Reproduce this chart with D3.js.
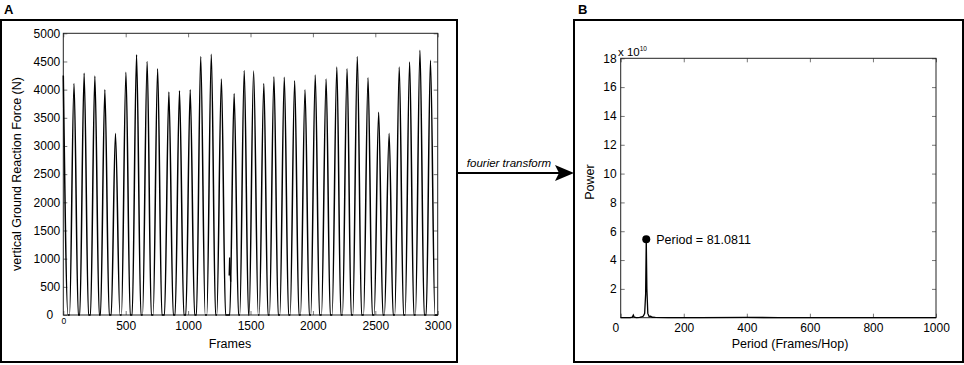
<!DOCTYPE html>
<html>
<head>
<meta charset="utf-8">
<script src="https://cdn.jsdelivr.net/npm/d3@7"></script>
<style>
  body { margin: 0; background: #fff; }
  svg { display: block; font-family: "Liberation Sans", Arial, sans-serif; }
</style>
</head>
<body>
<div id="chart"></div>
<script>
// ---- Panel A data: vertical ground reaction force vs frames ----
const frameTicks = [0, 500, 1000, 1500, 2000, 2500, 3000];
const forceTicks = [0, 500, 1000, 1500, 2000, 2500, 3000, 3500, 4000, 4500, 5000];

// each step: touchdown frame, peak frame, peak force, toe-off frame
const touchdown = [50, 132, 218, 298, 384, 466, 552, 635, 720, 811, 896, 982, 1067, 1150, 1230, 1334, 1414, 1489, 1570, 1652, 1735, 1818, 1901, 1983, 2069, 2154, 2237, 2320, 2406, 2491, 2573, 2656, 2739, 2822, 2908];
const peakFrame = [86, 167, 253, 333, 418, 502, 587, 672, 756, 846, 931, 1017, 1101, 1186, 1267, 1369, 1450, 1525, 1607, 1688, 1771, 1854, 1937, 2019, 2106, 2192, 2274, 2356, 2442, 2527, 2611, 2692, 2775, 2858, 2942];
const peakForce = [4110, 4290, 4240, 4000, 3220, 4310, 4620, 4500, 4370, 3960, 3980, 4000, 4590, 4630, 4190, 3930, 4340, 4330, 4110, 4230, 4220, 4160, 4000, 4260, 4190, 4400, 4370, 4590, 4210, 3600, 3220, 4400, 4490, 4700, 4520];
const toeoff = [120, 202, 288, 368, 454, 536, 622, 705, 790, 881, 966, 1052, 1137, 1220, 1300, 1404, 1484, 1562, 1640, 1722, 1805, 1888, 1971, 2053, 2139, 2224, 2307, 2390, 2476, 2561, 2643, 2726, 2809, 2892, 2978];
// trace begins mid-step, and a short glitch segment near frame 1335
const startFrames = [0, 38];
const startForces = [4250, 0];
const glitchFrames = [1329, 1333, 1341];
const glitchForces = [700, 1020, 590];

// ---- Panel B data: power spectrum ----
const periodTicks = [0, 200, 400, 600, 800, 1000];
const powerTicks = [2, 4, 6, 8, 10, 12, 14, 16, 18];
const periodVals = [0, 30, 37, 40, 43, 50, 60, 66, 72, 76, 79, 81.08, 83, 86, 90, 95, 100, 110, 150, 250, 400, 500, 700, 1000];
const powerVals = [0, 0.01, 0.04, 0.18, 0.03, 0.01, 0.02, 0.05, 0.12, 0.3, 1.6, 5.45, 2.0, 0.3, 0.08, 0.1, 0.03, 0.02, 0.01, 0.01, 0.02, 0.01, 0, 0];
const peakPeriod = 81.0811;
const peakPower = 5.45;

const width = 964, height = 365;
const svg = d3.select("#chart").append("svg")
    .attr("width", width)
    .attr("height", height);

const fontSize = 12;
const fmt = d3.format("d");

// panel frames
svg.append("rect").attr("x", 1).attr("y", 20).attr("width", 456).attr("height", 342)
    .attr("fill", "none").attr("stroke", "#000").attr("stroke-width", 2);
svg.append("rect").attr("x", 574).attr("y", 20).attr("width", 389).attr("height", 342)
    .attr("fill", "none").attr("stroke", "#000").attr("stroke-width", 2);

svg.append("text").attr("x", 4).attr("y", 14).text("A")
    .attr("font-weight", "bold").attr("font-size", 13);
svg.append("text").attr("x", 578).attr("y", 14).text("B")
    .attr("font-weight", "bold").attr("font-size", 13);

// helper to style an axis group MATLAB style
function styleAxis(g) {
    g.select(".domain").remove();
    g.selectAll(".tick line").attr("stroke", "#777");
    g.selectAll(".tick text").attr("fill", "#000").attr("font-size", fontSize)
        .attr("font-family", "Liberation Sans, Arial, sans-serif");
}

// ================= Panel A =================
const xA = d3.scaleLinear().domain([0, 3000]).range([63.3, 437.7]);
const yA = d3.scaleLinear().domain([0, 5000]).range([315, 33.3]);

svg.append("g").attr("transform", "translate(0,315)")
    .call(d3.axisBottom(xA).tickValues(frameTicks).tickFormat(fmt).tickSize(-4).tickPadding(6))
    .call(styleAxis)
    .call(g => g.selectAll(".tick text").filter(d => d === 0)
        .attr("font-size", 8.5).attr("dy", "0.3em"));
svg.append("g").attr("transform", "translate(0,33.3)")
    .call(d3.axisTop(xA).tickValues(frameTicks).tickSize(-4).tickFormat(""))
    .call(styleAxis);
svg.append("g").attr("transform", "translate(63.3,0)")
    .call(d3.axisLeft(yA).tickValues(forceTicks).tickFormat(fmt).tickSize(-4).tickPadding(3))
    .call(styleAxis)
    .call(g => g.selectAll(".tick text").filter(d => d === 0).attr("dx", "-0.6em"));
svg.append("g").attr("transform", "translate(437.7,0)")
    .call(d3.axisRight(yA).tickValues(forceTicks).tickSize(-4).tickFormat(""))
    .call(styleAxis);

svg.append("rect")
    .attr("x", xA(0)).attr("y", yA(5000))
    .attr("width", xA(3000) - xA(0)).attr("height", yA(0) - yA(5000))
    .attr("fill", "none").attr("stroke", "#222").attr("stroke-width", 1);

// build the force trace from the step points
const tracePts = startFrames.map((f, i) => [f, startForces[i]]);
peakFrame.forEach((p, i) => {
    tracePts.push([touchdown[i], 0]);
    tracePts.push([p, peakForce[i]]);
    tracePts.push([toeoff[i], 0]);
});
tracePts.push([3000, 0]);

const lineA = d3.line()
    .x(d => xA(d[0]))
    .y(d => yA(d[1]))
    .curve(d3.curveMonotoneX);

svg.append("path").datum(tracePts)
    .attr("d", lineA)
    .attr("fill", "none").attr("stroke", "#000").attr("stroke-width", 1.5);

svg.append("path").datum(glitchFrames.map((f, i) => [f, glitchForces[i]]))
    .attr("d", d3.line().x(d => xA(d[0])).y(d => yA(d[1])))
    .attr("fill", "none").attr("stroke", "#000").attr("stroke-width", 1.3);

svg.append("text").attr("x", 230).attr("y", 348)
    .attr("text-anchor", "middle").attr("font-size", 12.5).text("Frames");
svg.append("text")
    .attr("transform", "translate(21,174) rotate(-90)")
    .attr("text-anchor", "middle").attr("font-size", 12.5)
    .text("vertical Ground Reaction Force (N)");

// ================= Arrow =================
svg.append("line").attr("x1", 458).attr("y1", 173).attr("x2", 560).attr("y2", 173)
    .attr("stroke", "#000").attr("stroke-width", 2);
svg.append("path")
    .attr("d", "M555,165 L574,173 L555,181 L559,173 Z")
    .attr("fill", "#000");
svg.append("text").attr("x", 509).attr("y", 167)
    .attr("text-anchor", "middle").attr("font-size", 11.5).attr("font-style", "italic")
    .text("fourier transform");

// ================= Panel B =================
const xB = d3.scaleLinear().domain([0, 1000]).range([620.7, 936]);
const yB = d3.scaleLinear().domain([0, 18]).range([317.7, 58.3]);

svg.append("g").attr("transform", "translate(0,317.7)")
    .call(d3.axisBottom(xB).tickValues(periodTicks).tickFormat(fmt).tickSize(-4).tickPadding(6))
    .call(styleAxis)
    .call(g => g.selectAll(".tick text").filter(d => d === 0).attr("dx", "-0.45em"));
svg.append("g").attr("transform", "translate(0,58.3)")
    .call(d3.axisTop(xB).tickValues(periodTicks).tickSize(-4).tickFormat(""))
    .call(styleAxis);
svg.append("g").attr("transform", "translate(620.7,0)")
    .call(d3.axisLeft(yB).tickValues(powerTicks).tickFormat(fmt).tickSize(-4).tickPadding(4))
    .call(styleAxis);
svg.append("g").attr("transform", "translate(936,0)")
    .call(d3.axisRight(yB).tickValues(powerTicks).tickSize(-4).tickFormat(""))
    .call(styleAxis);

svg.append("rect")
    .attr("x", xB(0)).attr("y", yB(18))
    .attr("width", xB(1000) - xB(0)).attr("height", yB(0) - yB(18))
    .attr("fill", "none").attr("stroke", "#222").attr("stroke-width", 1);

// exponent label
const expo = svg.append("text").attr("x", 618).attr("y", 56).attr("font-size", 11.5);
expo.append("tspan").text("x 10");
expo.append("tspan").attr("font-size", 6.5).attr("dy", -5).text("10");

const spectrum = periodVals.map((p, i) => [p, powerVals[i]]);
svg.append("path").datum(spectrum)
    .attr("d", d3.line().x(d => xB(d[0])).y(d => yB(d[1])))
    .attr("fill", "none").attr("stroke", "#000").attr("stroke-width", 1.3);

svg.append("circle").attr("cx", xB(peakPeriod)).attr("cy", yB(peakPower))
    .attr("r", 4).attr("fill", "#000");
svg.append("text").attr("x", xB(peakPeriod) + 10).attr("y", yB(peakPower) + 4.5)
    .attr("font-size", 12.5).text("Period = " + peakPeriod);

svg.append("text").attr("x", 790).attr("y", 348)
    .attr("text-anchor", "middle").attr("font-size", 12.5).text("Period (Frames/Hop)");
svg.append("text")
    .attr("transform", "translate(594,182) rotate(-90)")
    .attr("text-anchor", "middle").attr("font-size", 12.5)
    .text("Power");
</script>
</body>
</html>
